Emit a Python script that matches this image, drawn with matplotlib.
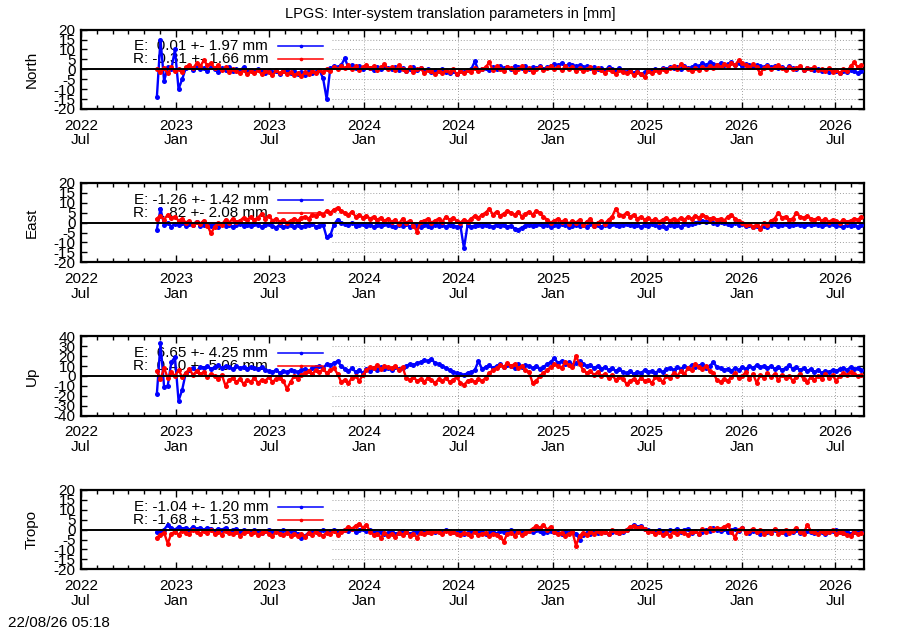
import numpy as np
import pandas as pd
import matplotlib
matplotlib.use("Agg")
import matplotlib.pyplot as plt
import matplotlib.dates as mdates

plt.rcParams['font.family'] = ['Liberation Sans', 'DejaVu Sans']

# weekly samples (E = blue, R = red), in mm
dates = pd.date_range("2022-11-25", periods=196, freq="7D")

north_e = [-14, 15, -6, 1, 0, 10, -10, -5, 0.5, 1.5, -0.5, 1, 0,
           0.5, -1, 1, 0, -1.5, 0.5, -0.5, 1, -1, 0, -0.5, 1, -1,
           -0.5, -1.5, 0, -1, -2, -0.5, -1.5, -1, -2.5, -1, -0.5, -2, -1,
           -2.5, -1.5, -3, -1, -2, -1.5, -0.5, -4.5, -15, 0.5, 1.5, 1, 2,
           5.5, 1, 2, 0.5, 1.5, 0, 1, 0.5, -0.5, 1, 0, 1.5, 0.5,
           0, 1, -0.5, 0.5, -1, 0, 1, -0.5, 0.5, -1, 0, -1.5, -0.5,
           -1, 0, -1.5, -2, -1, -2.5, -1, -1.5, -0.5, 0, 4, -0.5, 0,
           0.5, -0.5, 1, 0, 1.5, 0.5, 1, 0, 1.5, 1, 0.5, 1.5, 0,
           1, 0.5, 1.5, 0, 1, 1.5, 2.5, 2, 3, 1.5, 2.5, 2, 1.5,
           2, 1, 1.5, 0.5, 1, 0, 0.5, -0.5, 1, 0, -0.5, 0.5, -1,
           -1.5, -0.5, -2, -1, -2.5, -1.5, -1, -0.5, 0, -0.5, 0.5, 0, 1,
           0.5, 1, 0, 1.5, 0.5, 1, 2, 1.5, 3, 2, 3.5, 2.5, 2,
           3, 2, 2.5, 3.5, 2, 3, 1.5, 2.5, 2, 1, 2, 1.5, 1,
           2, 1, 1.5, 0.5, 1, 0, 1.5, 0.5, 0, 1, -0.5, 0.5, 0,
           -0.5, 0, -1, -0.5, -1.5, -0.5, -1, -2, -1, -1.5, -0.5, -1, -2,
           -1]
north_r = [0, -1.5, 0.5, -2, 1, -1, 0, -1.5, 1, 2, 0.5, 3, 1.5,
           4.5, 2, 3, 0.5, 2, -0.5, 1, -1.5, 0, -1, -2, -0.5, -2.5,
           -1, -2, -0.5, -2.5, -1, -1.5, -3, -0.5, -2, -1, -2.5, -1.5, -3,
           -2, -3.5, -1.5, -2.5, -1, -2, -0.5, -1.5, 0, -1, 1, 0, 1.5,
           0.5, 2, 0, 1.5, -0.5, 1, 2, 0.5, 1.5, -0.5, 1, 2.5, 0,
           1, -0.5, 2, 0, -1, 1, -1.5, 0, 0.5, -2, -0.5, -1, -2.5,
           -1, -2, -0.5, -1.5, 0, -2.5, -1, -2, -0.5, -1.5, 0.5, -1, 0,
           1, 3.5, -0.5, 1.5, 0, -1, 1, 0.5, -1.5, 0, 1.5, -1, 0.5,
           -1.5, 0, 1, -0.5, 0.5, 1.5, 0, 1, -0.5, 1.5, 0, 1, -1,
           0.5, -1, 0, 1, -1.5, 0.5, -0.5, -2, 0, -1, -2.5, -0.5, -1.5,
           -2, -1, -3, -1.5, -2.5, -4, -1, -2, -0.5, -1.5, 0, -1, 0.5,
           1.5, 0, 2.5, 1, 0, -1, 0.5, -0.5, 1, 0, 1.5, 0.5, 2,
           1, 2.5, 1.5, 3, 2, 4.5, 3, 2, 1, 2.5, 1, -2, 0.5,
           1.5, 0, 1, 2, 0.5, -0.5, 1, 0, 0.5, 1.5, -0.5, 0.5, 0,
           1, -0.5, 0, -1, 0.5, -1.5, -0.5, -2, 0, -1, 1.5, 3.5, 1,
           2]

east_e = [-3.5, 7, -1, 0, -2, -0.5, -1, 0, -1.5, -0.5, -1, 0.5, -1.5,
          -1, -0.5, -1.5, -1, -2, -0.5, -1.5, -1, -2, -1, -0.5, -1.5, -1,
          -1.5, -0.5, -1, -2, -1, -0.5, -1.5, -2.5, -1, -2, -1.5, -1, -2,
          -1, -2, -1.5, -1, -0.5, -2, -1.5, -1, -7.5, -6.5, -1, 1.5, 0,
          -0.5, -1, 0, -1.5, -1, -0.5, -1.5, -1, -2, -1, -1.5, -0.5, -1,
          -1.5, -2, -1, -1.5, -0.5, -2, -1, -1.5, -2, -1, -1.5, -2, -1,
          -1.5, -1, -2, -1, -1.5, -2, -1.5, -13, -1, -2, -1.5, -1, -1.5,
          -1, -1.5, -2, -1, -1.5, -1, -2, -1.5, -3, -3.5, -2.5, -1.5, -1,
          -1.5, -1, -0.5, -1.5, -1, -2, -1, -1.5, -0.5, -1, -2, -1.5, -1,
          -1.5, -1, -2, -0.5, -1.5, -1, -2, -1, -1.5, -0.5, -1, -1.5, -1,
          -0.5, -1, -1.5, -1, -2, -1, -1.5, -0.5, -1, -2, -1.5, -2.5, -1,
          -1.5, -1, -2, -0.5, -1, -0.5, 0, 0.5, 1, 0.5, 1, 0, -0.5,
          0.5, 0, -0.5, -1, 0, -1, -0.5, -1.5, -1, -2, -1.5, -2.5, -1.5,
          -2, -1, -0.5, -1.5, -1, -0.5, -1.5, -1, -0.5, -1, -1.5, -0.5, -1,
          -0.5, -1, -1.5, -0.5, -1, -0.5, -1.5, -1, -2, -1, -1.5, -1, -2,
          -1]
east_r = [2, 3.5, 1.5, 4, 2.5, 3, 1, 2, 0, 1, -1, 0.5, -0.5,
          1, -1.5, -5.5, -2, 0, -1, 1.5, 0, 2, 0.5, 1, 2.5, 1.5,
          3, 1.5, 2.5, 4.5, 2, 3.5, 1, 2, 0.5, 1.5, 0, 1, 2,
          1, 2.5, 3, 2, 4, 3.5, 5, 4, 6, 5, 6.5, 7.5, 6,
          5, 4, 5.5, 3, 4, 2.5, 3.5, 2, 3, 1.5, 2.5, 1, 2,
          0.5, 1.5, -0.5, 2, 0, 1, -1.5, -4.5, 0.5, 1, 2, 0, 1,
          2, 0.5, 3, 1.5, 2.5, 1, 0, 1.5, 0.5, 2, 3.5, 2.5, 4,
          5, 7, 4, 5.5, 3.5, 4.5, 6, 5, 4, 5.5, 3, 4.5, 5.5,
          4, 6, 5, 3, 1.5, 0, 1, 2, 0.5, 1.5, -0.5, 1, 0,
          1.5, -1, 0.5, 2, -1.5, 0, 1, -0.5, 1.5, 3, 7, 4, 3.5,
          5, 3, 4, 2, 3, 1.5, 2.5, 1, 2, 0.5, 1.5, 2.5, 1,
          2, 1, 2.5, 1.5, 3, 2, 3.5, 2.5, 4, 3, 2, 2.5, 1.5,
          2, 1, 3, 4, 2, 1, 0, -1, -0.5, -2, -1, -3, 0,
          -1, 1, 2, 5, 2.5, 3, 1.5, 2, 5, 3, 2.5, 3.5, 2,
          1.5, 2.5, 1, 2, 0.5, 1.5, 1, 0, 1.5, 0.5, 1, 2, 1.5,
          3]

up_e = [-18, 33, -11, -10, 14, 19, -25, -14, 3, 6, 8, 5, 9,
        8, 10, 7, 9, 11, 8, 10, 9, 7, 10, 8, 9, 7,
        9, 8, 7, 9, 6, 5, 4, 6, 3, 5, 4, 6, 5,
        4, 6, 7, 5, 8, 9, 10, 8, 12, 11, 13, 15, 10,
        7, 5, 8, 4, 6, 3, 7, 5, 8, 6, 9, 7, 8,
        6, 9, 7, 8, 10, 12, 11, 13, 14, 16, 15, 17, 13,
        12, 10, 8, 6, 4, 3, 2, 1, 3, 4, 6, 15, 7,
        9, 11, 8, 10, 12, 9, 11, 10, 8, 12, 9, 11, 10,
        8, 10, 7, 9, 12, 14, 18, 13, 15, 12, 14, 11, 13,
        15, 12, 10, 11, 8, 10, 7, 9, 6, 8, 5, 7, 4,
        3, 5, 2, 4, 3, 6, 4, 5, 3, 6, 4, 7, 8,
        6, 9, 7, 10, 8, 11, 9, 10, 12, 8, 10, 14, 9,
        8, 6, 7, 5, 8, 6, 9, 7, 10, 8, 11, 9, 10,
        8, 10, 7, 9, 6, 8, 11, 7, 9, 6, 8, 5, 7,
        4, 6, 3, 5, 4, 6, 5, 7, 8, 6, 9, 7, 8,
        6]
up_r = [5, -3, 8, -2, 4, 0, 6, -1, 3, 7, 1, 5, 2,
        4, -1, 2, 0, -3, 1, -10, -4, -2, -6, -3, -8, -4,
        -6, -2, -7, -4, -5, -1, -6, -3, -2, -5, -13, -6, 0,
        -3, 1, 3, 5, 2, 6, 4, 7, 3, 6, 8, 2, -6,
        -4, -7, -2, 0, -5, 1, 6, 9, 8, 11, 7, 10, 9,
        8, 10, 6, 9, -2, -4, -1, -5, -3, -6, -2, -4, -7,
        -3, -5, -2, -6, -4, -1, -7, -9, -5, -4, -6, -3, -5,
        -2, 3, 6, 8, 11, 9, 13, 10, 12, 8, 10, 6, 4,
        -7, -5, 0, 3, 6, 9, 12, 10, 8, 14, 11, 9, 20,
        12, 6, 3, 5, 1, 4, 0, 2, -2, 1, -4, -1, -3,
        -8, -5, -3, -6, -2, -5, -4, -7, -1, -3, -6, 0, -2,
        3, 0, 5, 2, 8, 6, 12, 9, 7, 10, 5, 3, -4,
        -6, -3, -5, -1, 3, -2, 0, 4, -3, 2, -7, 1, -2,
        3, -1, 2, -4, 1, -2, 0, -5, -1, 2, -3, -6, -1,
        -4, 0, -3, 2, -2, 1, -5, 0, 3, 1, 4, 2, 0,
        1]

tropo_e = [-1, -0.5, 0, 2.5, 1, 0, 1.5, 0.5, 1, 0, 1.5, 0.5, 1,
           0, 1, 0.5, -0.5, 0.5, 0, 1, -0.5, 0, 0.5, -1, 0, -0.5,
           -1, 0, -0.5, -1.5, -0.5, 0, -1, -0.5, -1.5, 0, -1, -0.5, -1,
           -2, -4, -3, -1.5, -1, -0.5, -1.5, 0, -1, -0.5, 0, -1, -0.5,
           0, -0.5, 0.5, -1, 0, 0.5, -0.5, 0, -1, -1.5, -1, -2, -1.5,
           -1, -2, -1.5, -0.5, -1, -2, -1.5, -1, -0.5, -1.5, -1, -0.5, -1,
           -0.5, -1, 0, -0.5, -1, -1.5, -1, -2, -1.5, -1, -0.5, -1.5, -1,
           -2, -1.5, -1, -2, -0.5, -1, -1.5, 0, -1, -0.5, -1.5, -1, -0.5,
           -1, 0, -0.5, -1.5, -1, -0.5, -1, -1.5, -2, -1, -1.5, -1, -2,
           -5, -2.5, -1.5, -2, -1, -1.5, -0.5, -1, -2, -1, -0.5, -1.5, -1,
           0, 1, 2.5, 1.5, 2, 0.5, 0, -0.5, -1, 0, -0.5, -1, 0,
           -0.5, 0.5, -1, 0, 0.5, -1.5, -0.5, -2, -1, 0, -0.5, 1, 0,
           -0.5, 0.5, -1, 0, 0.5, -0.5, 1, -1, -1.5, -0.5, -1, -2, -0.5,
           -1, -1.5, 0, -0.5, -1, -2, -0.5, -1, 0, -1.5, -1, -0.5, -1,
           -1.5, -0.5, -1, -2, -1, -0.5, 0, -1, -1.5, -1, -2, -1, -1.5,
           -1]
tropo_r = [-4, -2.5, -1.5, -7, -2, -1, -2.5, -0.5, -1.5, -2, 0, -1, -2,
           -0.5, -1.5, 0, -2, -1, -2.5, -0.5, -1.5, -2, -1, -3, -1.5, -0.5,
           -2, -1, -2.5, -1.5, -0.5, -2, -3, -1, -2, -2.5, -1.5, -3, -2,
           -3, -2, -3.5, -1.5, -2.5, -1, -2, -3, -1.5, -2, -0.5, -2.5, -1,
           0, 1.5, 0.5, 2, 3, 1, 2.5, -1, -2.5, -2, -4, -1.5, -3,
           -2, -3.5, -1.5, -2.5, -1, -3, -2, -4, -1.5, -2, -1, -1.5, -0.5,
           -1, -2, -0.5, -1.5, -1, -2, -2.5, -1.5, -2, -3, -1, -2.5, -2,
           -1.5, -3, -2, -2.5, -3.5, -6, -2, -1.5, -3, -1, -2.5, -1.5, -0.5,
           0.5, 2, 1, 2.5, 0, 1.5, -1, -2, -1.5, -3, -2, -1, -8,
           -3, -1.5, -2.5, -1, -2, -0.5, -1.5, -1, -2, 0, -1, -1.5, -0.5,
           0, 1.5, 2, 1, 1.5, 0.5, -1, -0.5, -2, -1, -2.5, -1.5, -3,
           -1, -2, -0.5, -1.5, -2.5, -1, -0.5, -2, 0.5, -1, 1, 0, 1,
           0.5, 1.5, 2.5, -1, -4, 0, 1, -1.5, -0.5, 0.5, -1, 0, -2,
           -0.5, -1.5, 0.5, -2, -1, 0, -1.5, -0.5, 1, -1, -2, 2.5, -0.5,
           -1, -2, -0.5, -1.5, -1, 0, -2, -1, -1.5, -2.5, -3, -1, -2,
           -1.5]

components = ["North", "East", "Up", "Tropo"]
series_e = [north_e, east_e, up_e, tropo_e]
series_r = [north_r, east_r, up_r, tropo_r]
labels_e = ["E:  0.01 +- 1.97 mm", "E: -1.26 +- 1.42 mm",
            "E:  6.65 +- 4.25 mm", "E: -1.04 +- 1.20 mm"]
labels_r = ["R: -0.31 +- 1.66 mm", "R:  1.82 +- 2.08 mm",
            "R:  0.40 +- 5.06 mm", "R: -1.68 +- 1.53 mm"]
ylims = [20, 20, 40, 20]
ysteps = [5, 5, 10, 5]

fig = plt.figure(figsize=(9, 6.3), dpi=100)
bottoms = [0.827, 0.5837, 0.3402, 0.0963]
grid_from = pd.Timestamp("2023-12-20")

for k in range(4):
    ax = fig.add_axes([0.09, bottoms[k], 0.87, 0.126])
    lim = ylims[k]
    yt = np.arange(-lim, lim + 1, ysteps[k])

    for y in yt[1:-1]:
        ax.axhline(y, xmin=0.32, xmax=1, color='#a0a0a0', lw=0.7,
                   ls=(0, (1, 2)), zorder=1)

    ax.plot(dates, series_e[k], color='#0000ff', lw=1.7, marker='o',
            ms=3.6, mew=0, zorder=3)
    ax.plot(dates, series_r[k], color='#ff0000', lw=1.7, marker='o',
            ms=3.6, mew=0, zorder=4)
    ax.axhline(0, color='black', lw=1.4, zorder=5)

    ax.set_xlim(pd.Timestamp("2022-07-01"), pd.Timestamp("2026-08-26"))
    ax.set_ylim(-lim, lim)
    ax.set_yticks(yt)
    ax.set_yticklabels([str(v) for v in yt])

    ax.xaxis.set_major_locator(mdates.MonthLocator(bymonth=[1, 7]))
    ax.xaxis.set_major_formatter(mdates.DateFormatter("%Y\n%b"))
    ax.xaxis.set_minor_locator(mdates.MonthLocator())
    for t in ax.get_xticks():
        if mdates.num2date(t).replace(tzinfo=None) > grid_from:
            ax.axvline(t, color='#a0a0a0', lw=0.7, ls=(0, (1, 2)), zorder=1)

    ax.tick_params(axis='both', which='both', direction='in', top=True,
                   right=True, labelsize=11, width=1)
    ax.tick_params(axis='x', which='major', length=5, pad=7)
    ax.tick_params(axis='x', which='minor', length=3)
    ax.tick_params(axis='y', which='major', length=4, pad=4)
    for lbl in ax.get_xticklabels():
        lbl.set_linespacing(1.05)
    for s in ax.spines.values():
        s.set_linewidth(1.6)

    # key
    for lab, col, yk in [(labels_e[k], '#0000ff', 0.79),
                         (labels_r[k], '#ff0000', 0.625)]:
        ax.text(0.239, yk, lab, transform=ax.transAxes, ha='right',
                va='center', fontsize=11, zorder=2)
        ax.plot([0.252, 0.309], [yk, yk], color=col, lw=1.1,
                transform=ax.transAxes, zorder=6)
        ax.plot([0.2805], [yk], 'o', color=col, ms=2.6, mew=0,
                transform=ax.transAxes, zorder=6)

    fig.text(32 / 900, bottoms[k] + 0.063, components[k], rotation=90,
             ha='center', va='center', fontsize=11)

fig.text(0.5, 1 - 14 / 630, "LPGS: Inter-system translation parameters in [mm]",
         ha='center', va='center', fontsize=10.5)
fig.text(8 / 900, 1 - 623 / 630, "22/08/26 05:18", ha='left', va='center',
         fontsize=11)

plt.savefig("out.png", dpi=100)
